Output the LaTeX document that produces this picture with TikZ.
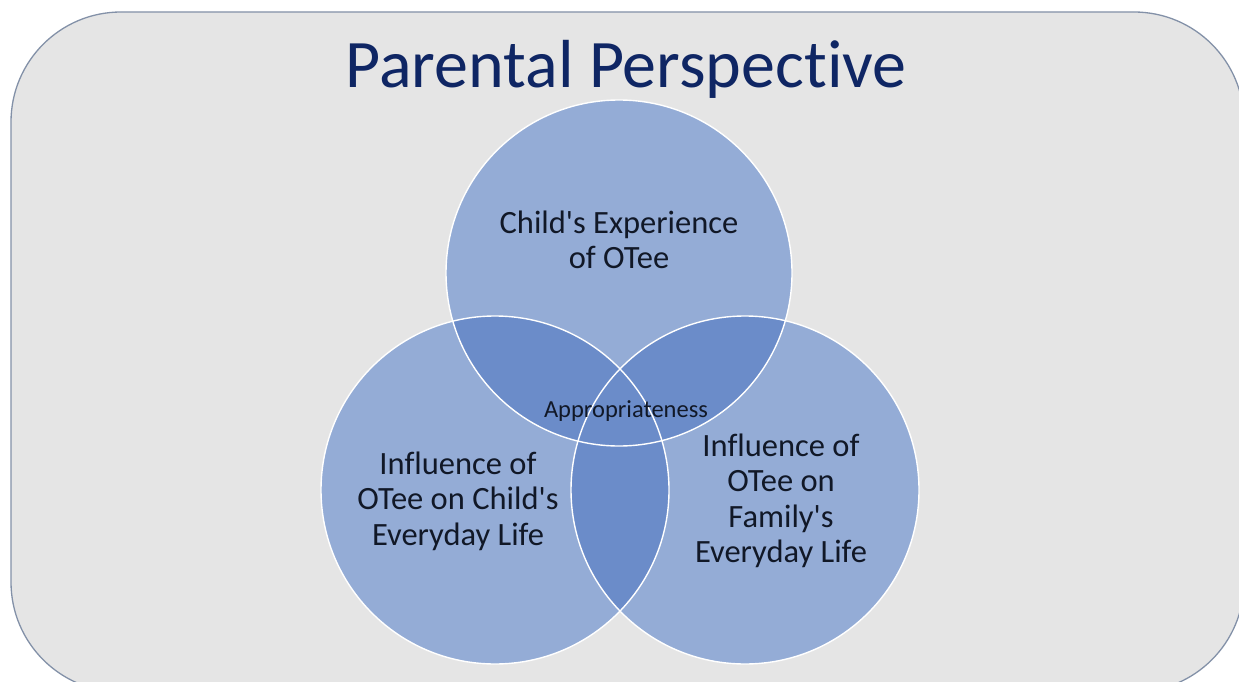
\documentclass[tikz,border=0pt]{standalone}
\usepackage{fontspec}
\setmainfont{Carlito}[Ligatures={TeXOff,CommonOff}]
\definecolor{bgfill}{HTML}{E5E5E5}
\definecolor{frame}{HTML}{8391A8}
\definecolor{single}{HTML}{94ACD6}
\definecolor{overlap}{HTML}{6B8CC9}
\definecolor{titlecol}{HTML}{0F2664}
\definecolor{txt}{HTML}{111827}
\tikzset{
  venn/.style={circle, draw=white, line width=1.4pt, inner sep=0pt},
  lbl/.style={text=txt, align=center, font=\fontsize{32.5}{35.5}\selectfont},
}
\begin{document}
\begin{tikzpicture}[x=1pt,y=-1pt]
\useasboundingbox (0,0) rectangle (1239,682);
\clip (0,0) rectangle (1239,682);
\fill[white] (0,0) rectangle (1239,682);
\draw[frame, fill=bgfill, line width=1.3pt, rounded corners=110pt] (11,12) rectangle (1244,692);
\node[text=titlecol, font=\fontsize{68}{76}\selectfont, anchor=base] (title) at (626,88) {Parental Perspective};
% circle fills
\fill[single] (619,273) circle (173);
\fill[single] (495,490) circle (174);
\fill[single] (745,490) circle (174);
\begin{scope}
\clip (619,273) circle (173);
\fill[overlap] (495,490) circle (174);
\fill[overlap] (745,490) circle (174);
\end{scope}
\begin{scope}
\clip (495,490) circle (174);
\fill[overlap] (745,490) circle (174);
\end{scope}
% outlines as nodes
\node[venn, minimum size=346pt] (ctop) at (619,273) {};
\node[venn, minimum size=348pt] (cleft) at (495,490) {};
\node[venn, minimum size=348pt] (cright) at (745,490) {};
% labels
\node[lbl] (ltop) at (619,240) {Child's Experience\\of OTee};
\node[lbl] (lleft) at (458,501) {Influence of\\OTee on Child's\\Everyday Life};
\node[lbl] (lright) at (781,501) {Influence of\\OTee on\\Family's\\Everyday Life};
\node[text=txt, font=\fontsize{24.5}{28}\selectfont] (lmid) at (626,411) {Appropriateness};
\end{tikzpicture}
\end{document}
